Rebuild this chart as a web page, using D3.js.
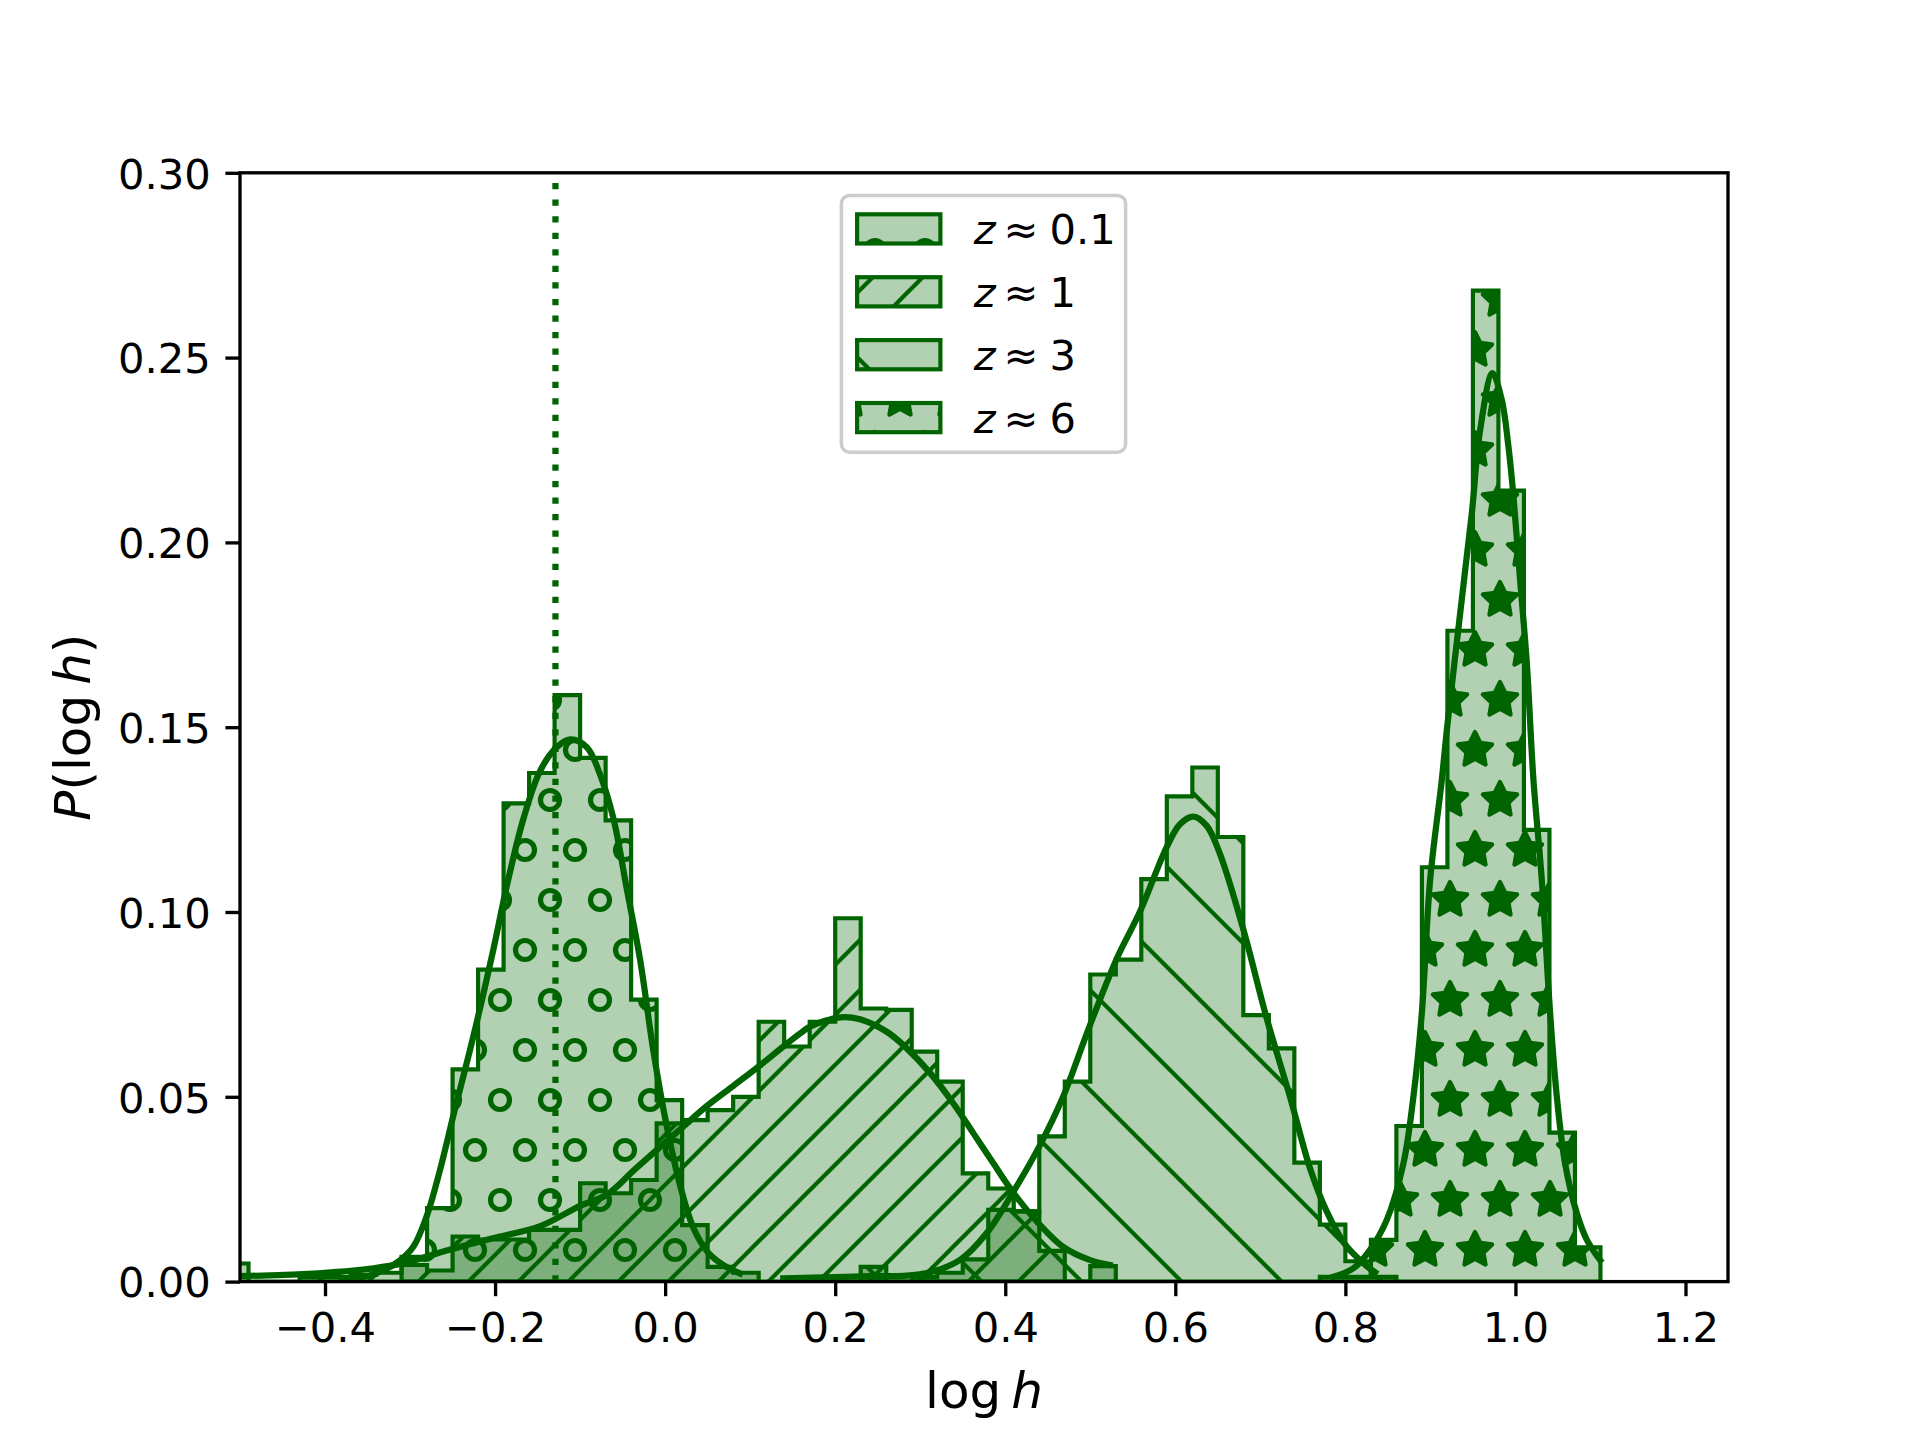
<!DOCTYPE html>
<html>
<head>
<meta charset="utf-8">
<script src="https://cdn.jsdelivr.net/npm/d3@7"></script>
<style>
  body { margin: 0; background: #fff; }
  svg { display: block; }
  text { font-family: "DejaVu Sans", sans-serif; fill: #000; }
</style>
</head>
<body>
<div id="chart"></div>
<script>
// Shared histogram bin edges (bin width 0.03)
const BIN_EDGES = [
  -0.52, -0.49, -0.46, -0.43, -0.40, -0.37, -0.34, -0.31, -0.28, -0.25, -0.22,
  -0.19, -0.16, -0.13, -0.10, -0.07, -0.04, -0.01, 0.02, 0.05, 0.08, 0.11,
  0.14, 0.17, 0.20, 0.23, 0.26, 0.29, 0.32, 0.35, 0.38, 0.41, 0.44, 0.47,
  0.50, 0.53, 0.56, 0.59, 0.62, 0.65, 0.68, 0.71, 0.74, 0.77, 0.80, 0.83,
  0.86, 0.89, 0.92, 0.95, 0.98, 1.01, 1.04, 1.07, 1.10
];

// z ~ 0.1 (circles)
const Z01_START = -0.31;
const Z01_HIST = [0.0067, 0.0199, 0.0574, 0.0844, 0.1294, 0.1376, 0.1587, 0.1417,
  0.1248, 0.0763, 0.0491, 0.0153, 0.0040, 0.0024];
const Z01_CURVE = [
  [-0.38, 0.0005], [-0.35, 0.0015], [-0.33, 0.0032], [-0.312, 0.0057], [-0.296, 0.0095],
  [-0.28, 0.018], [-0.265, 0.030], [-0.249, 0.045], [-0.2254, 0.0665], [-0.2019, 0.090],
  [-0.1862, 0.1071], [-0.1666, 0.1253], [-0.147, 0.1382], [-0.1274, 0.1446], [-0.1117, 0.1467],
  [-0.0921, 0.1446], [-0.0764, 0.1371], [-0.0608, 0.1253], [-0.045, 0.1061], [-0.0294, 0.087],
  [-0.0137, 0.0622], [0.002, 0.0419], [0.0176, 0.026], [0.0333, 0.0145], [0.05, 0.008],
  [0.068, 0.0045], [0.088, 0.0022]
];

// z ~ 1 (forward hatch)
const Z1_START = -0.52;
const Z1_HIST = [0.0049, 0, 0, 0.0012, 0.0012, 0.0018, 0.0024, 0.0045, 0.0030, 0.0122,
  0.0114, 0.0114, 0.0140, 0.0140, 0.0266, 0.0239, 0.0275, 0.0428, 0.0437, 0.0464,
  0.0500, 0.0703, 0.0636, 0.0703, 0.0983, 0.0739, 0.0735, 0.0622, 0.0541, 0.0293,
  0.0252, 0.0190, 0.0083, 0, 0.0042];
const Z1_CURVE = [
  [-0.50, 0.0015], [-0.42, 0.0021], [-0.343, 0.0036], [-0.304, 0.0052], [-0.257, 0.0084],
  [-0.205, 0.0116], [-0.147, 0.0150], [-0.10, 0.0205], [-0.0686, 0.0235], [-0.035, 0.0305],
  [0.0216, 0.042], [0.049, 0.0475], [0.0804, 0.053], [0.11, 0.0582], [0.139, 0.0636],
  [0.159, 0.0672], [0.1705, 0.069], [0.2058, 0.0715], [0.229, 0.071], [0.2607, 0.0676],
  [0.2842, 0.0631], [0.3117, 0.0564], [0.339, 0.0482], [0.3626, 0.0401], [0.386, 0.032],
  [0.41, 0.0239], [0.441, 0.0153], [0.468, 0.0094], [0.50, 0.0058], [0.523, 0.0045]
];

// z ~ 3 (back hatch)
const Z3_START = 0.23;
const Z3_HIST = [0.0040, 0, 0.0012, 0.0024, 0.0060, 0.0194, 0.0190, 0.0393, 0.0541,
  0.0831, 0.0871, 0.1089, 0.1313, 0.1391, 0.1203, 0.0721, 0.0631, 0.0322, 0.0154,
  0.0055, 0.0013];
const Z3_CURVE = [
  [0.139, 0.0009], [0.20, 0.0012], [0.245, 0.0015], [0.284, 0.0016], [0.315, 0.0027],
  [0.347, 0.0059], [0.378, 0.0131], [0.41, 0.0245], [0.441, 0.037], [0.468, 0.050],
  [0.499, 0.069], [0.531, 0.0873], [0.5586, 0.1002], [0.590, 0.1176], [0.6057, 0.1238],
  [0.6213, 0.1258], [0.637, 0.1233], [0.6527, 0.1156], [0.680, 0.0953], [0.7075, 0.0712],
  [0.735, 0.0499], [0.7585, 0.0306], [0.778, 0.019], [0.80, 0.0100], [0.821, 0.0050],
  [0.835, 0.0025]
];

// z ~ 6 (stars)
const Z6_START = 0.77;
const Z6_HIST = [0.0013, 0.0013, 0.0113, 0.0421, 0.1121, 0.1761, 0.2681, 0.2140,
  0.1222, 0.0403, 0.0093];
const Z6_CURVE = [
  [0.786, 0.0013], [0.8095, 0.0036], [0.829, 0.0086], [0.8487, 0.0167], [0.8683, 0.032],
  [0.880, 0.050], [0.8899, 0.0726], [0.8997, 0.1087], [0.9134, 0.1357], [0.9193, 0.1492],
  [0.935, 0.1808], [0.9487, 0.2079], [0.9585, 0.2304], [0.973, 0.2458], [0.984, 0.2385],
  [0.9918, 0.2259], [0.9977, 0.2124], [1.0055, 0.1898], [1.0134, 0.1673], [1.0212, 0.1357],
  [1.031, 0.1087], [1.0408, 0.0726], [1.0487, 0.050], [1.0584, 0.032], [1.0722, 0.0185],
  [1.084, 0.0113], [1.0996, 0.0058]
];

const VLINE_X = -0.129;
const LEGEND_LABELS = ['0.1', '1', '3', '6'];
const X_TICKS = [-0.4, -0.2, 0.0, 0.2, 0.4, 0.6, 0.8, 1.0, 1.2];
const Y_TICKS = [0.00, 0.05, 0.10, 0.15, 0.20, 0.25, 0.30];

const GREEN = '#006400';
const FILL = 'rgba(0,100,0,0.3)';
const W = 1920, H = 1440;
const AX = { left: 240, right: 1728, top: 172.8, bottom: 1281.6 };

const x = d3.scaleLinear().domain([-0.5, 1.25]).range([AX.left, AX.right]);
const y = d3.scaleLinear().domain([0, 0.30]).range([AX.bottom, AX.top]);

const SERIES = [
  { label: LEGEND_LABELS[0], start: Z01_START, heights: Z01_HIST, curve: Z01_CURVE, hatch: 'hatch-o' },
  { label: LEGEND_LABELS[1], start: Z1_START, heights: Z1_HIST, curve: Z1_CURVE, hatch: 'hatch-fwd' },
  { label: LEGEND_LABELS[2], start: Z3_START, heights: Z3_HIST, curve: Z3_CURVE, hatch: 'hatch-back' },
  { label: LEGEND_LABELS[3], start: Z6_START, heights: Z6_HIST, curve: Z6_CURVE, hatch: 'hatch-star' }
];

const svg = d3.select('#chart').append('svg')
  .attr('width', W).attr('height', H)
  .attr('viewBox', `0 0 ${W} ${H}`);

// hatch patterns, anchored to the canvas origin like matplotlib's Agg hatches
const defs = svg.append('defs');

function gridPattern(id, w, h, drawShape) {
  const p = defs.append('pattern').attr('id', id)
    .attr('patternUnits', 'userSpaceOnUse')
    .attr('x', 0).attr('y', 0).attr('width', w).attr('height', h);
  [[0, 0], [50, 0], [0, 100], [50, 100], [25, 50]].forEach(([cx, cy]) => drawShape(p, cx, cy));
}

gridPattern('hatch-o', 50, 100, (p, cx, cy) => {
  p.append('circle').attr('cx', cx).attr('cy', cy).attr('r', 9.5)
    .attr('fill', 'none').attr('stroke', GREEN).attr('stroke-width', 5.2);
});

function starPath(cx, cy, r) {
  const pts = d3.range(10).map(i => {
    const a = -Math.PI / 2 + i * Math.PI / 5;
    const rr = i % 2 === 0 ? r : r / 2;
    return [cx + rr * Math.cos(a), cy + rr * Math.sin(a)];
  });
  return 'M' + pts.map(p => p.join(',')).join('L') + 'Z';
}

gridPattern('hatch-star', 50, 100, (p, cx, cy) => {
  p.append('path').attr('d', starPath(cx, cy, 18))
    .attr('fill', GREEN).attr('stroke', GREEN)
    .attr('stroke-width', 4.17).attr('stroke-linejoin', 'round');
});

defs.append('pattern').attr('id', 'hatch-fwd')
  .attr('patternUnits', 'userSpaceOnUse')
  .attr('x', 0).attr('y', 0).attr('width', 50).attr('height', 50)
  .append('path')
  .attr('d', 'M-25,25L25,-25M-10,60L60,-10M25,75L75,25')
  .attr('stroke', GREEN).attr('stroke-width', 4.17);

defs.append('pattern').attr('id', 'hatch-back')
  .attr('patternUnits', 'userSpaceOnUse')
  .attr('x', 0).attr('y', 0).attr('width', 100).attr('height', 100)
  .append('path')
  .attr('d', 'M-50,-50L150,150M50,-50L150,50M-50,50L50,150')
  .attr('stroke', GREEN).attr('stroke-width', 4.17);

defs.append('clipPath').attr('id', 'axes-clip')
  .append('rect')
  .attr('x', AX.left).attr('y', AX.top)
  .attr('width', AX.right - AX.left).attr('height', AX.bottom - AX.top);

function stepPath(s) {
  const i0 = BIN_EDGES.findIndex(e => Math.abs(e - s.start) < 1e-9);
  const pts = [[BIN_EDGES[i0], 0]];
  s.heights.forEach((h, i) => {
    pts.push([BIN_EDGES[i0 + i], h], [BIN_EDGES[i0 + i + 1], h]);
  });
  pts.push([BIN_EDGES[i0 + s.heights.length], 0]);
  return 'M' + pts.map(p => `${x(p[0])},${y(p[1])}`).join('L') + 'Z';
}

const plot = svg.append('g').attr('clip-path', 'url(#axes-clip)');

// histograms: face, hatch, edge for each one in turn
SERIES.forEach(s => {
  const d = stepPath(s);
  const g = plot.append('g');
  g.append('path').attr('d', d).attr('fill', FILL);
  g.append('path').attr('d', d).attr('fill', `url(#${s.hatch})`);
  g.append('path').attr('d', d).attr('fill', 'none')
    .attr('stroke', GREEN).attr('stroke-width', 4.17).attr('stroke-linejoin', 'miter');
});

const line = d3.line()
  .x(d => x(d[0]))
  .y(d => y(d[1]))
  .curve(d3.curveCatmullRom.alpha(0.5));

SERIES.forEach(s => {
  plot.append('path').attr('d', line(s.curve))
    .attr('fill', 'none').attr('stroke', GREEN)
    .attr('stroke-width', 6.25).attr('stroke-linejoin', 'round').attr('stroke-linecap', 'square');
});

plot.append('line')
  .attr('x1', x(VLINE_X)).attr('x2', x(VLINE_X))
  .attr('y1', y(0)).attr('y2', y(0.30))
  .attr('stroke', GREEN).attr('stroke-width', 6.25)
  .attr('stroke-dasharray', '6.25 10.3');

// axes
const xAxis = svg.append('g')
  .attr('transform', `translate(0,${AX.bottom})`)
  .call(d3.axisBottom(x).tickValues(X_TICKS).tickFormat(d3.format('.1f'))
    .tickSize(14.6).tickPadding(14.6));
const yAxis = svg.append('g')
  .attr('transform', `translate(${AX.left},0)`)
  .call(d3.axisLeft(y).tickValues(Y_TICKS).tickFormat(d3.format('.2f'))
    .tickSize(14.6).tickPadding(14.6));

[xAxis, yAxis].forEach(a => {
  a.select('.domain').remove();
  a.selectAll('.tick line').attr('stroke', '#000').attr('stroke-width', 3.33);
  a.selectAll('.tick text')
    .style('font-family', '"DejaVu Sans", sans-serif')
    .style('font-size', '41.67px').attr('fill', '#000');
});
xAxis.selectAll('.tick text').attr('dy', '0.76em');
yAxis.selectAll('.tick text').attr('dy', '0.365em');

svg.append('rect')
  .attr('x', AX.left).attr('y', AX.top)
  .attr('width', AX.right - AX.left).attr('height', AX.bottom - AX.top)
  .attr('fill', 'none').attr('stroke', '#000').attr('stroke-width', 3.33);

// axis labels
const xl = svg.append('text')
  .attr('x', (AX.left + AX.right) / 2).attr('y', 1408)
  .attr('text-anchor', 'middle').style('font-size', '50px');
xl.append('tspan').text('log\u2009');
xl.append('tspan').attr('font-style', 'italic').text('h');

const yl = svg.append('text')
  .attr('transform', `translate(90,${(AX.top + AX.bottom) / 2}) rotate(-90)`)
  .attr('text-anchor', 'middle').style('font-size', '50px');
yl.append('tspan').attr('font-style', 'italic').text('P');
yl.append('tspan').text('(log\u2009');
yl.append('tspan').attr('font-style', 'italic').text('h');
yl.append('tspan').text(')');

// legend
const legend = svg.append('g');
legend.append('rect')
  .attr('x', 841.4).attr('y', 195.4).attr('width', 284.2).attr('height', 256.8)
  .attr('rx', 8.3).attr('ry', 8.3)
  .attr('fill', 'rgba(255,255,255,0.8)').attr('stroke', '#cccccc').attr('stroke-width', 3.5);

SERIES.forEach((s, i) => {
  const top = 214.3 + i * 62.9;
  const r = legend.append('g');
  [FILL, `url(#${s.hatch})`].forEach(f => {
    r.append('rect').attr('x', 857.1).attr('y', top).attr('width', 83.3).attr('height', 29.2)
      .attr('fill', f);
  });
  r.append('rect').attr('x', 857.1).attr('y', top).attr('width', 83.3).attr('height', 29.2)
    .attr('fill', 'none').attr('stroke', GREEN).attr('stroke-width', 4.17);
  const t = legend.append('text').attr('x', 973.7).attr('y', top + 30)
    .style('font-size', '41.67px');
  t.append('tspan').attr('font-style', 'italic').text('z');
  t.append('tspan').attr('dx', 8).text('\u2248');
  t.append('tspan').attr('dx', 11).text(s.label);
});
</script>
</body>
</html>
